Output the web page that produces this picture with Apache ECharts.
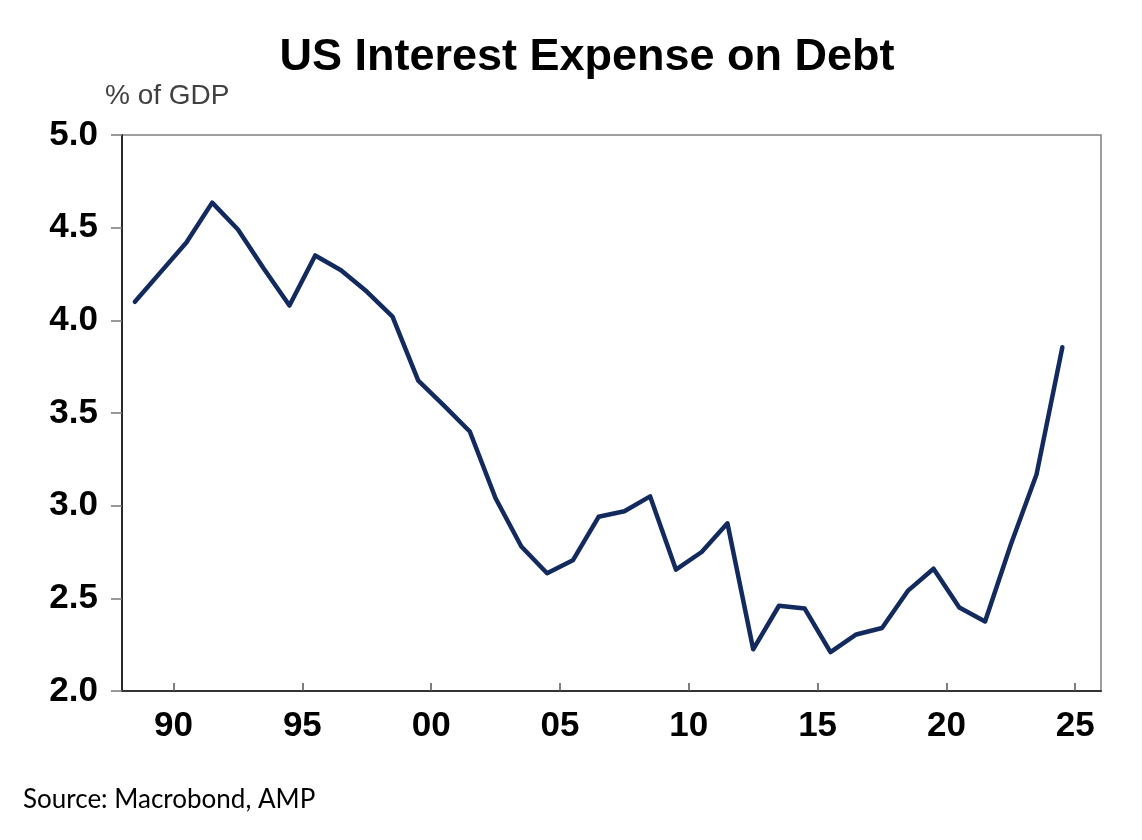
<!DOCTYPE html>
<html>
<head>
<meta charset="utf-8">
<script src="https://cdn.jsdelivr.net/npm/echarts@6/dist/echarts.min.js"></script>
<style>
    html, body { margin: 0; padding: 0; background: #fff; }
    #chart { width: 1142px; height: 840px; }
</style>
</head>
<body>
<div id="chart"></div>
<script>
// fiscal years and interest expense, % of GDP
var years = [1988, 1989, 1990, 1991, 1992, 1993, 1994, 1995, 1996, 1997,
    1998, 1999, 2000, 2001, 2002, 2003, 2004, 2005, 2006, 2007,
    2008, 2009, 2010, 2011, 2012, 2013, 2014, 2015, 2016, 2017,
    2018, 2019, 2020, 2021, 2022, 2023, 2024]
var interest = [4.10, 4.26, 4.42, 4.635, 4.49, 4.28, 4.08, 4.35, 4.27, 4.155,
    4.02, 3.675, 3.54, 3.40, 3.04, 2.78, 2.635, 2.705, 2.94, 2.97,
    3.05, 2.655, 2.75, 2.905, 2.225, 2.46, 2.445, 2.21, 2.305, 2.34,
    2.54, 2.66, 2.45, 2.375, 2.79, 3.17, 3.855]

// x axis ticks
var xTickYears = [1990, 1995, 2000, 2005, 2010, 2015, 2020, 2025]
var xTickLabels = ['90', '95', '00', '05', '10', '15', '20', '25']

// each year is drawn in the middle of its year
var lineData = []
for (let i = 0; i < years.length; i++) {
    lineData.push([years[i] + 0.5, interest[i]])
}

var myChart = echarts.init(document.getElementById('chart'))

var option = {
    animation: false,
    backgroundColor: '#fff',
    grid: {
        left: 122,
        right: 41,
        top: 135,
        bottom: 149,
        show: true,
        borderColor: '#808080',
        borderWidth: 1.5
    },
    graphic: [
        {
            type: 'text', x: 587, y: 58,
            style: {
                text: 'US Interest Expense on Debt',
                font: 'bold 45px "Liberation Sans", Arial, sans-serif',
                fill: '#000',
                textAlign: 'center',
                textVerticalAlign: 'middle'
            }
        },
        {
            type: 'text', x: 105, y: 96,
            style: {
                text: '% of GDP',
                font: '28px "Liberation Sans", Arial, sans-serif',
                fill: '#404040',
                textAlign: 'left',
                textVerticalAlign: 'middle'
            }
        },
        {
            type: 'text', x: 23, y: 800,
            style: {
                text: 'Source: Macrobond, AMP',
                font: '26px Lato, "Open Sans", sans-serif',
                fill: '#000',
                textAlign: 'left',
                textVerticalAlign: 'middle'
            }
        }
    ],
    xAxis: {
        type: 'value',
        min: 1988,
        max: 2026,
        splitLine: { show: false },
        axisLine: { show: true, lineStyle: { color: '#333', width: 2 } },
        axisTick: {
            show: true,
            inside: true,
            length: 8,
            customValues: xTickYears,
            lineStyle: { color: '#555', width: 1.5 }
        },
        axisLabel: {
            customValues: xTickYears,
            margin: 18,
            color: '#000',
            fontSize: 35,
            fontWeight: 'bold',
            fontFamily: '"Liberation Sans", Arial, sans-serif',
            formatter: function (v) {
                var k = xTickYears.indexOf(v)
                return k >= 0 ? xTickLabels[k] : ''
            }
        }
    },
    yAxis: {
        type: 'value',
        min: 2,
        max: 5,
        interval: 0.5,
        splitLine: { show: false },
        axisLine: { show: true, lineStyle: { color: '#000', width: 1.5 } },
        axisTick: {
            show: true,
            inside: false,
            length: 11,
            lineStyle: { color: '#777', width: 1.5 }
        },
        axisLabel: {
            margin: 24,
            color: '#000',
            fontSize: 35,
            fontWeight: 'bold',
            fontFamily: '"Liberation Sans", Arial, sans-serif',
            formatter: function (v) { return v.toFixed(1) }
        }
    },
    series: [
        {
            type: 'line',
            data: lineData,
            showSymbol: false,
            symbol: 'none',
            lineStyle: { color: '#132a5e', width: 4.5, join: 'round', cap: 'round' }
        }
    ]
}

myChart.setOption(option)
window.addEventListener('resize', function () {
    myChart.resize()
})
</script>
</body>
</html>
